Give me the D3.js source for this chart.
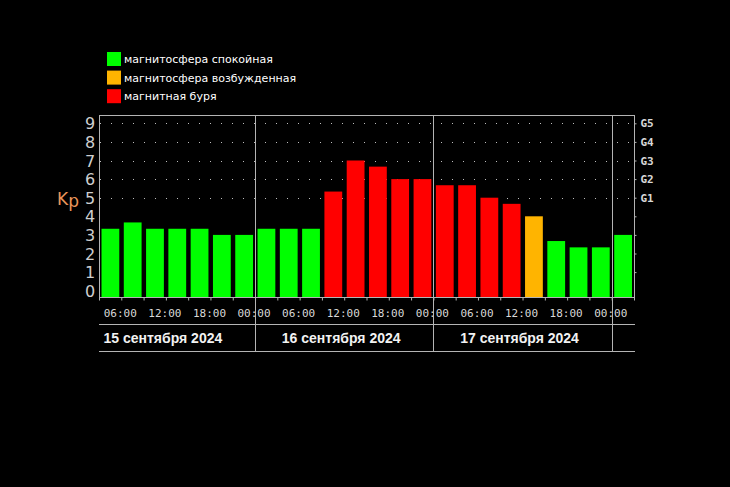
<!DOCTYPE html>
<html>
<head>
<meta charset="utf-8">
<script src="https://cdn.jsdelivr.net/npm/d3@7"></script>
<style>
  html, body { margin: 0; padding: 0; background: #000; }
  svg { display: block; }
</style>
</head>
<body>
<div id="graph"></div>
<script>
// Kp index, 3-hour intervals, from 15 Sep 03:00 to 18 Sep 03:00
var days = ["15 сентября 2024", "16 сентября 2024", "17 сентября 2024"];
var dayStarts = ["2024-09-15", "2024-09-16", "2024-09-17"];
var kpValues = [3.33, 3.67, 3.33, 3.33, 3.33, 3.0, 3.0,
                3.33, 3.33, 3.33, 5.33, 7.0, 6.67, 6.0, 6.0,
                5.67, 5.67, 5.0, 4.67, 4.0, 2.67, 2.33, 2.33,
                3.0];
var kpState = ["q", "q", "q", "q", "q", "q", "q",
               "q", "q", "q", "s", "s", "s", "s", "s",
               "s", "s", "s", "s", "a", "q", "q", "q",
               "q"];
var yTicks = [0, 1, 2, 3, 4, 5, 6, 7, 8, 9];
var gLabels = ["G1", "G2", "G3", "G4", "G5"];
var legendLabels = ["магнитосфера спокойная", "магнитосфера возбужденная", "магнитная буря"];
var legendKeys = ["q", "a", "s"];

(function () {
var colors = { q: "#00ff00", a: "#ffb400", s: "#ff0000" };
var lineCol = "#b4b4b4";
var textCol = "#d8d8d8";

var W = 730, H = 487;
var pl = 99, pr = 634, pt = 115, pb = 297;

var t0 = new Date("2024-09-15T03:00:00Z");
var t1 = new Date("2024-09-18T03:00:00Z");
var x = d3.scaleUtc().domain([t0, t1]).range([pl, pr]);
var y = d3.scaleLinear().domain([0, 9]).range([290.7, 123.3]);

var svg = d3.select("#graph").append("svg")
    .attr("width", W)
    .attr("height", H)
    .style("background", "#000");

function slotStart(i) { return d3.utcHour.offset(t0, i * 3); }

// dotted grid at 5..9
svg.append("g").selectAll("line")
    .data([5, 6, 7, 8, 9])
    .enter().append("line")
    .attr("x1", pl + 1).attr("x2", pr)
    .attr("y1", d => Math.round(y(d)) + 0.5).attr("y2", d => Math.round(y(d)) + 0.5)
    .attr("stroke", "#bdbdbd")
    .attr("stroke-dasharray", "1,10")
    .attr("stroke-dashoffset", -11);

// bars
svg.append("g").selectAll("rect")
    .data(kpValues)
    .enter().append("rect")
    .attr("x", (d, i) => x(slotStart(i)) + 2.5)
    .attr("width", (d, i) => x(slotStart(i + 1)) - x(slotStart(i)) - 4.5)
    .attr("y", d => y(d))
    .attr("height", d => pb - y(d))
    .attr("fill", (d, i) => colors[kpState[i]]);

// frame
var frame = svg.append("g").attr("stroke", lineCol).attr("stroke-width", 1).attr("fill", "none");
frame.append("line").attr("x1", pl).attr("x2", pr + 1).attr("y1", pt + 0.5).attr("y2", pt + 0.5);
frame.append("line").attr("x1", pl + 0.5).attr("x2", pl + 0.5).attr("y1", pt).attr("y2", pb + 1);
frame.append("line").attr("x1", pr + 0.5).attr("x2", pr + 0.5).attr("y1", pt).attr("y2", pb + 1);
frame.append("line").attr("x1", pl).attr("x2", pr + 1).attr("y1", pb + 0.5).attr("y2", pb + 0.5);

// day separators
var seps = dayStarts.slice(1).map(d => new Date(d + "T00:00:00Z")).concat([new Date("2024-09-18T00:00:00Z")]);
frame.selectAll(".sep")
    .data(seps)
    .enter().append("line")
    .attr("x1", d => Math.round(x(d)) + 0.5).attr("x2", d => Math.round(x(d)) + 0.5)
    .attr("y1", pt).attr("y2", 352);

// lines under time labels and dates
frame.append("line").attr("x1", pl).attr("x2", pr + 1).attr("y1", 324.5).attr("y2", 324.5);
frame.append("line").attr("x1", pl).attr("x2", pr + 1).attr("y1", 351.5).attr("y2", 351.5);

// x axis: ticks every 3h, labels every 6h
var xAxis = d3.axisBottom(x)
    .ticks(d3.utcHour.every(3))
    .tickSize(3)
    .tickFormat(d => d.getUTCHours() % 6 === 0 ? d3.utcFormat("%H:%M")(d) : "");
var gx = svg.append("g")
    .attr("transform", "translate(0," + (pb + 0.5) + ")")
    .call(xAxis);
gx.select(".domain").remove();
gx.selectAll(".tick line").attr("stroke", lineCol);
gx.selectAll(".tick text")
    .attr("fill", textCol)
    .attr("dy", null)
    .attr("y", 19)
    .attr("x", -1.5)
    .style("font-family", "'DejaVu Sans Mono', monospace")
    .style("font-size", "11px");

// date labels
svg.append("g").selectAll("text")
    .data(days)
    .enter().append("text")
    .attr("x", (d, i) => {
        var a = new Date(dayStarts[i] + "T00:00:00Z");
        var b = d3.utcDay.offset(a, 1);
        return (x(a) + x(b)) / 2 - 3;
    })
    .attr("y", 343)
    .attr("text-anchor", "middle")
    .attr("fill", "#f2f2f2")
    .style("font-family", "'Liberation Sans', Arial, sans-serif")
    .style("font-weight", "bold")
    .style("font-size", "14px")
    .text(d => d);

// left y labels
svg.append("g").selectAll("text")
    .data(yTicks)
    .enter().append("text")
    .attr("x", 90)
    .attr("y", d => y(d) + 6)
    .attr("text-anchor", "middle")
    .attr("fill", "#cfcfcf")
    .style("font-family", "'DejaVu Sans', sans-serif")
    .style("font-size", "16px")
    .text(d => d);

// Kp label
var kpText = svg.append("text")
    .attr("x", 57)
    .attr("y", 205)
    .attr("fill", "#e8955a")
    .style("font-family", "'DejaVu Sans', sans-serif")
    .style("font-size", "17px");
kpText.append("tspan").text("K");
kpText.append("tspan").attr("dy", 2).text("p");

// right axis: small ticks and G levels
var yRight = d3.axisRight(y).tickValues([1, 2, 3, 4, 5, 6, 7, 8, 9]).tickSize(2)
    .tickFormat(d => d >= 5 ? gLabels[d - 5] : "");
var gy = svg.append("g")
    .attr("transform", "translate(" + (pr + 0.5) + ",0)")
    .call(yRight);
gy.select(".domain").remove();
gy.selectAll(".tick line").attr("stroke", lineCol);
gy.selectAll(".tick text")
    .attr("x", 6)
    .attr("fill", textCol)
    .style("font-family", "'DejaVu Sans Mono', monospace")
    .style("font-weight", "bold")
    .style("font-size", "11px");

// legend
var lg = svg.append("g").selectAll("g")
    .data(legendLabels)
    .enter().append("g")
    .attr("transform", (d, i) => "translate(107," + (52 + i * 18.6) + ")");
lg.append("rect")
    .attr("width", 14).attr("height", 14)
    .attr("fill", (d, i) => colors[legendKeys[i]]);
lg.append("text")
    .attr("x", 17)
    .attr("y", 11)
    .attr("fill", "#fff")
    .style("font-family", "'DejaVu Sans', sans-serif")
    .style("font-size", "11px")
    .text(d => d);
})();
</script>
</body>
</html>
